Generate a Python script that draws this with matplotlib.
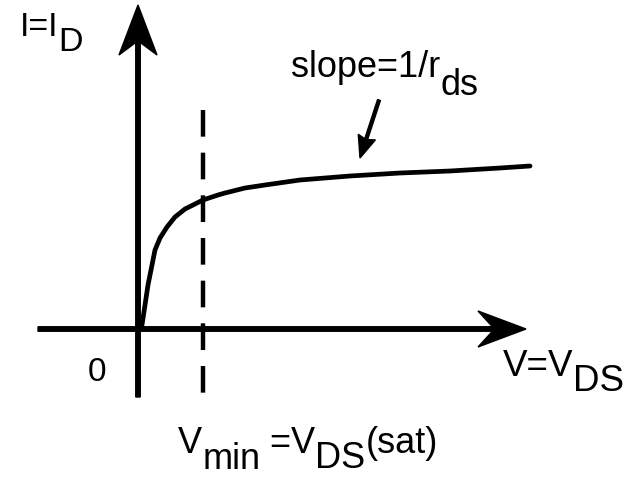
import matplotlib
matplotlib.use("Agg")
from matplotlib import pyplot as plt

plt.rcParams["font.family"] = ["Liberation Sans", "DejaVu Sans"]

# I-V curve of a MOSFET (drain current vs drain-source voltage), arbitrary units
vds = [0, 4, 7, 10, 14, 17, 22, 29, 37, 47, 65, 80, 87, 107, 127, 162, 212,
       262, 312, 362, 392]
ids = [0, 4, 24, 44, 64, 79, 91, 102, 112, 120, 129, 134, 136, 141, 144, 149,
       153, 156, 158, 161, 163]

v_sat = 65            # V_DS(sat), marked by dashed line
x_axis = (-100, 388)  # extent of the V axis
y_axis = (-68, 324)   # extent of the I axis
dash_top = 219

# label pieces: (text, downward shift in px)
lbl_i = [("I=I", 0), ("D", 15)]
lbl_slope = [("slope=1/r", 0), ("ds", 18)]
lbl_v = [("V=V", 0), ("DS", 15)]
lbl_vmin = [("V", 0), ("min", 16), (" =V", 0), ("DS", 15), ("(sat)", 0)]


def label(ax, x, y, parts, size):
    """Draw text pieces one after another, subscripts at full size."""
    prev = None
    prev_dy = 0
    for s, dy in parts:
        if prev is None:
            prev = ax.text(x, y - dy, s, fontsize=size, ha="left", va="baseline")
        else:
            prev = ax.annotate(s, xy=(1, 0), xycoords=prev,
                               xytext=(0, -(dy - prev_dy) * 0.72),
                               textcoords="offset points",
                               fontsize=size, ha="left", va="bottom")
        prev_dy = dy


fig = plt.figure(figsize=(6.28, 4.8), dpi=100)
ax = fig.add_axes([0, 0, 1, 1])
ax.set_xlim(-138, 490)
ax.set_ylim(-151, 329)
ax.axis("off")

#   Axes with arrow heads
ax.arrow(x_axis[0], 0, x_axis[1] - x_axis[0], 0, width=4.5, head_width=36,
         head_length=48, overhang=0.3, length_includes_head=True, color="k")
ax.arrow(0, y_axis[0], 0, y_axis[1] - y_axis[0], width=4.5, head_width=38,
         head_length=50, overhang=0.25, length_includes_head=True, color="k")

#   Dashed line at V_DS(sat)
ax.plot([v_sat, v_sat], [dash_top, y_axis[0]], color="k", lw=3.2,
        ls=(0, (6.0, 3.6)))

#   The curve
ax.plot(vds, ids, color="k", lw=3.4, solid_capstyle="round",
        solid_joinstyle="round")

#   Slope annotation arrow
ax.arrow(241, 229, -19, -58, width=3, head_width=18, head_length=22,
         overhang=0.1, length_includes_head=True, color="k")

label(ax, -118, 293, lbl_i, 24.5)
label(ax, 153, 252, lbl_slope, 26)
ax.text(-41, -52, "0", fontsize=24, ha="center", va="baseline")
label(ax, 365, -47, lbl_v, 26.5)
label(ax, 40, -124, lbl_vmin, 26)

plt.savefig("out.png", dpi=100)
